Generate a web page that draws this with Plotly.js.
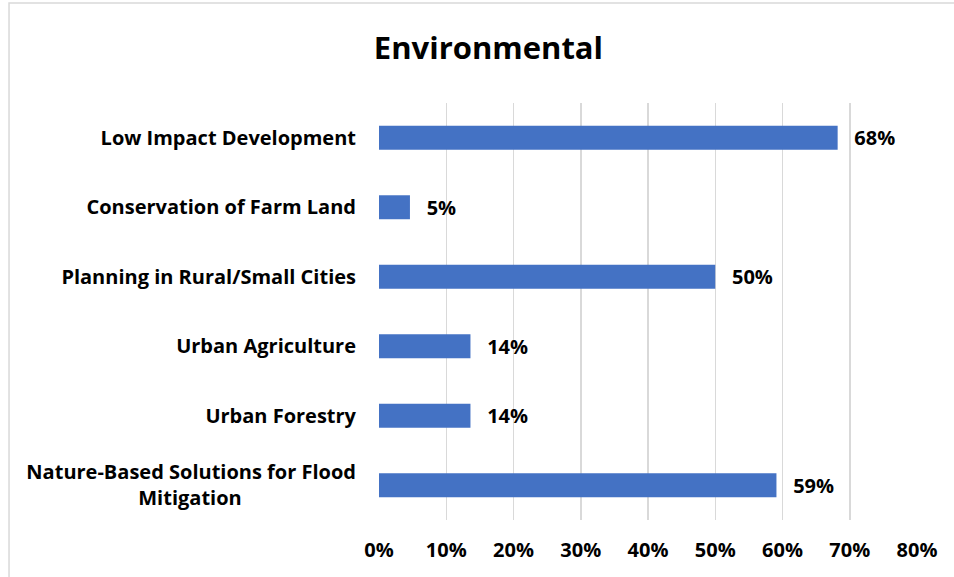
<!DOCTYPE html>
<html>
<head>
<meta charset="utf-8">
<script src="https://cdn.plot.ly/plotly-3.0.1.min.js"></script>
<style>html,body{margin:0;padding:0;background:#fff;}#chart{width:954px;height:577px;}</style>
</head>
<body>
<div id="chart"></div>
<script>
const categories = [
  "Low Impact Development",
  "Conservation of Farm Land",
  "Planning in Rural/Small Cities",
  "Urban Agriculture",
  "Urban Forestry",
  "Nature-Based Solutions for Flood<br>Mitigation" + "\u00A0".repeat(22)
];
const values = [0.682, 0.046, 0.50, 0.136, 0.136, 0.591];
const xTickValues = [0, 0.1, 0.2, 0.3, 0.4, 0.5, 0.6, 0.7, 0.8];
const chartTitle = "Environmental";

const FONT = "'Open Sans', sans-serif";

const trace = {
  type: "bar",
  orientation: "h",
  y: categories,
  x: values,
  marker: {color: "#4472c4"},
  texttemplate: "\u00A0\u00A0\u2009%{x:.0%}",
  textposition: "outside",
  constraintext: "none",
  cliponaxis: false,
  textfont: {family: FONT, size: 20, color: "#000", weight: "bold"},
  hoverinfo: "skip"
};

const layout = {
  width: 954, height: 577,
  margin: {l: 379, r: 37, t: 103, b: 57},
  paper_bgcolor: "#fff", plot_bgcolor: "#fff",
  title: {text: "<b>" + chartTitle + "</b>", x: 0.512, xanchor: "center", y: 0.917, yanchor: "middle",
          font: {family: FONT, size: 31, color: "#000"}},
  bargap: 0.655,
  showlegend: false,
  xaxis: {
    range: [0, 0.8], tickvals: xTickValues, tickformat: ".0%",
    showgrid: true, gridcolor: "#d9d9d9", gridwidth: 1.5,
    zeroline: false, showline: false, ticks: "",
    ticklabelstandoff: 16,
    tickfont: {family: FONT, size: 20, color: "#000", weight: "bold"},
    fixedrange: true
  },
  yaxis: {
    autorange: "reversed", type: "category",
    showgrid: false, zeroline: false, showline: false, ticks: "",
    ticklabelstandoff: 22,
    tickfont: {family: FONT, size: 20, color: "#000", weight: "bold"},
    fixedrange: true
  },
  shapes: [{
    type: "rect", xref: "paper", yref: "paper",
    x0: -0.6877, x1: 1.3, y0: -0.5, y1: 1.2398,
    line: {color: "#d9d9d9", width: 1.5}, fillcolor: "rgba(0,0,0,0)", layer: "below"
  }]
};

Plotly.newPlot("chart", [trace], layout, {displayModeBar: false, staticPlot: true});
</script>
</body>
</html>
